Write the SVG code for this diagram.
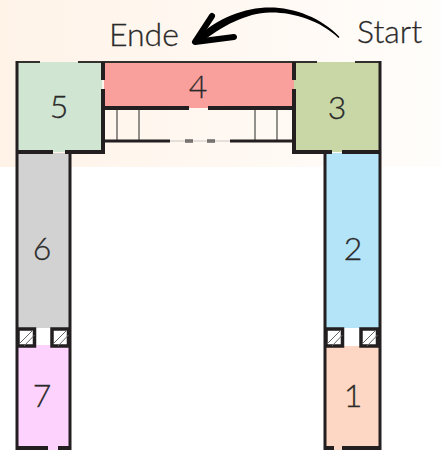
<svg xmlns="http://www.w3.org/2000/svg" width="441" height="450" viewBox="0 0 441 450">
<style>
text{font-family:"Lato","Liberation Sans",sans-serif;font-size:32px;fill:#2b2a2a;font-weight:300;stroke:#2b2a2a;stroke-width:.3}
.n{text-anchor:middle}
.w{stroke:#231f20;stroke-width:4;fill:none}
.t{stroke:#231f20;stroke-width:3;fill:none}
.e{stroke:#33302e;stroke-width:2;fill:none}
.s{stroke:#6f6d6b;stroke-width:1.5;fill:none}
.h{fill:#fff;stroke:#231f20;stroke-width:3.5}
.d{stroke:#666;stroke-width:1}
</style>
<defs>
<linearGradient id="bg" x1="0" x2="1" y1="0" y2="0"><stop offset="0" stop-color="#fff3e8"/><stop offset="1" stop-color="#fffdfb"/></linearGradient>
<g id="hb"><rect class="h" x="0" y="0" width="16.500" height="17"/><path class="d" d="M1 15 L15 1 M6 17 L16.500 6"/></g>
</defs>
<rect width="441" height="450" fill="#fff"/>
<rect width="441" height="167" fill="url(#bg)"/>
<g id="room5"><rect x="17" y="62" width="85" height="90" fill="#d0e5d2"/><text class="n" x="59" y="118">5</text></g>
<g id="room4"><rect x="104" y="62" width="190" height="46" fill="#f9a09d"/><text class="n" x="198" y="98">4</text></g>
<g id="room3"><rect x="294" y="62" width="86" height="90" fill="#c9d7a6"/><text class="n" x="337" y="119">3</text></g>
<g id="room6"><rect x="17" y="153" width="53" height="175" fill="#d2d2d3"/><text class="n" x="42" y="260">6</text></g>
<g id="room2"><rect x="326" y="153" width="54" height="175" fill="#b3e4f8"/><text class="n" x="353" y="260">2</text></g>
<g id="room7"><rect x="17" y="345" width="53" height="105" fill="#fdd3fe"/><text class="n" x="42" y="407">7</text></g>
<g id="room1"><rect x="326" y="346" width="54" height="104" fill="#fdd7c3"/><text class="n" x="353" y="407">1</text></g>
<g id="stairs">
<path class="s" d="M117 109V140M139 109V140M255 109V140M277 109V140"/>
</g>
<g id="walls">
<path class="e" d="M40 62H16M78 62H317M355 62H381"/>
<path class="t" d="M17 450V61M380 61V450M70 152V450M325 152V450"/>
<path class="w" d="M103 62V80M103 89V152H65M53 152H17M104 108H189M208 108H294M294 62V80M294 89V152H332M342 152H380"/>
<path class="t" d="M104 141H170M185 141H193M207 141H215M230 141H294"/>
<path d="M170 141H230" stroke="#c9c6c2" stroke-width="1" fill="none"/>
<path class="w" d="M17 448H48M58 448H70M325 448H334M342 448H380"/>
</g>
<g id="hatch">
<use href="#hb" x="18" y="329"/><use href="#hb" x="52" y="329"/>
<use href="#hb" x="326" y="329"/><use href="#hb" x="361" y="329"/>
</g>
<g id="arrow">
<path d="M339.500 37C322 18 294 7.500 270 7.500C244 7.500 218 18 196 38L199 44C222 26 246 13 270 12.500C292 12 320 20 338.500 38Z" fill="#000"/>
<path d="M212 16L195 42L234 37" fill="none" stroke="#000" stroke-width="6" stroke-linecap="round" stroke-linejoin="round"/>
</g>
<text x="109" y="46">Ende</text>
<text x="357" y="43">Start</text>
</svg>
